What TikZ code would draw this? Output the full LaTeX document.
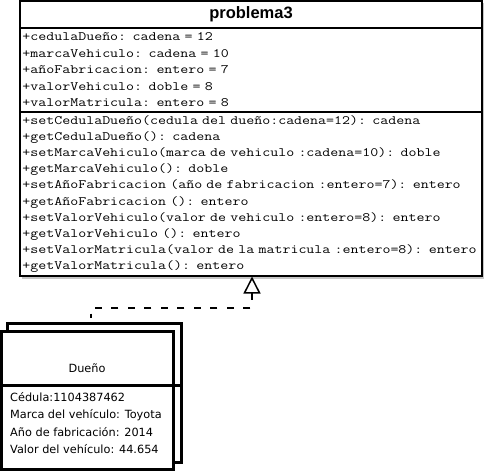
\documentclass[tikz,border=0pt]{standalone}
\usepackage{fontspec}
\usetikzlibrary{arrows.meta}
\newfontfamily\umlmono[FakeStretch=1.21]{Latin Modern Mono}
\newfontfamily\umlsans{DejaVu Sans}
\newfontfamily\umltitle{Liberation Sans}
\begin{document}
\begin{tikzpicture}[x=1pt,y=-1pt,
  classbox/.style={draw, line width=1.6pt, fill=white, minimum width=462pt,
    anchor=north west, inner ysep=0pt, inner xsep=2.5pt, outer sep=0pt},
  listbox/.style={classbox, align=left, text width=457pt,
    font=\umlmono\fontsize{12.8}{16.5}\selectfont},
  multibox/.style={draw, line width=3pt, fill=white, anchor=north west,
    inner sep=0pt, outer sep=0pt},
  ownertext/.style={inner sep=0pt, font=\umlsans\fontsize{11.3}{17.5}\selectfont},
  realize/.style={line width=1.6pt, dash pattern=on 7pt off 9.5pt,
    {Triangle[length=17pt,width=17pt,fill=white,line width=1.5pt,sep=0pt]}-}
]
\useasboundingbox (0,0) rectangle (485,472);
% shadow of main class
\fill[gray!45] (22,3) rectangle (484,278.5);
\node[classbox, minimum height=27pt,
  font=\umltitle\bfseries\fontsize{16.5}{18}\selectfont] (title) at (20,1) {problema3};
\node[listbox, minimum height=84pt] (attrs) at (20,28) {%
+cedulaDueño: cadena = 12\\
+marcaVehiculo: cadena = 10\\
+añoFabricacion: entero = 7\\
+valorVehiculo: doble = 8\\
+valorMatricula: entero = 8};
\node[listbox, minimum height=164pt,
  font=\umlmono\fontsize{12.8}{16.05}\selectfont] (methods) at (20,112) {%
+setCedulaDueño(cedula del dueño:cadena=12): cadena\\
+getCedulaDueño(): cadena\\
+setMarcaVehiculo(marca de vehiculo :cadena=10): doble\\
+getMarcaVehiculo(): doble\\
+setAñoFabricacion (año de fabricacion :entero=7): entero\\
+getAñoFabricacion (): entero\\
+setValorVehiculo(valor de vehiculo :entero=8): entero\\
+getValorVehiculo (): entero\\
+setValorMatricula(valor de la matricula :entero=8): entero\\
+getValorMatricula(): entero};
% object box (Dueño)
\node[multibox, minimum width=174pt, minimum height=139pt] (back) at (7,323) {};
\node[multibox, minimum width=172pt, minimum height=138pt] (front) at (1,331) {};
\coordinate (sepL) at (1,385);
\coordinate (sepR) at (181,385);
\draw[line width=3pt] (sepL) -- (sepR);
\node[ownertext] (ownername) at (87,368) {Dueño};
\node[ownertext, anchor=north west, align=left] (ownerattrs) at (10,392) {%
Cédula:1104387462\\
Marca del vehículo: Toyota\\
Año de fabricación: 2014\\
Valor del vehículo: 44.654};
% realization connector
\coordinate (tip) at (252,276.5);
\coordinate (bendA) at (252,308);
\coordinate (bendB) at (91,308);
\coordinate (endC) at (91,318);
\draw[realize] (tip) -- (bendA) -- (bendB) -- (endC);
\end{tikzpicture}
\end{document}
